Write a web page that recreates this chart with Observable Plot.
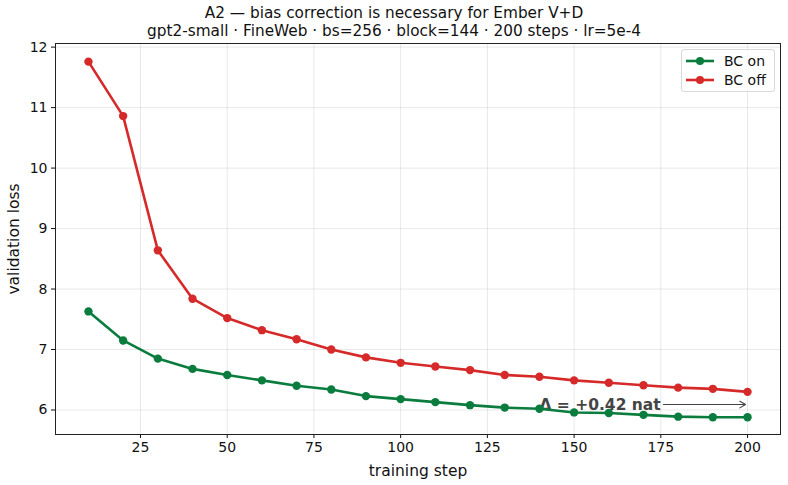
<!DOCTYPE html>
<html>
<head>
<meta charset="utf-8">
<script src="https://cdn.jsdelivr.net/npm/d3@7"></script>
<script src="https://cdn.jsdelivr.net/npm/@observablehq/plot@0.6"></script>
<style>
  body { margin: 0; background: #fff; font-family: "DejaVu Sans", sans-serif; }
  #wrap { position: relative; width: 788px; height: 485px; }
  #title { height: 40px; text-align: center; color: #111; font-size: 15.3px; line-height: 18px; padding-top: 4px; box-sizing: border-box; }
  #legend { position: absolute; left: 681px; top: 49px; width: 94px; height: 43px; border: 1px solid #d8d8d8; border-radius: 3px; background: rgba(255,255,255,0.85); box-sizing: border-box; font-size: 14px; color: #111; }
  .row { position: absolute; left: 3px; display: flex; align-items: center; }
  .row span { margin-left: 9px; }
</style>
</head>
<body>
<div id="wrap">
  <div id="title"></div>
  <div id="chart"></div>
  <div id="legend"></div>
</div>
<script>
// validation loss every 10 steps, bias correction on vs off
const steps = [10, 20, 30, 40, 50, 60, 70, 80, 90, 100, 110, 120, 130, 140, 150, 160, 170, 180, 190, 200];
const bcOn  = [7.63, 7.15, 6.85, 6.68, 6.58, 6.49, 6.40, 6.34, 6.23, 6.18, 6.13, 6.08, 6.04, 6.02, 5.96, 5.95, 5.92, 5.89, 5.88, 5.88];
const bcOff = [11.76, 10.86, 8.64, 7.84, 7.52, 7.32, 7.17, 7.00, 6.87, 6.78, 6.72, 6.66, 6.58, 6.55, 6.49, 6.45, 6.41, 6.37, 6.35, 6.30];
const seriesNames = ["BC on", "BC off"];
const seriesColors = ["#0a7d3e", "#d62a2a"];
const xTicks = [25, 50, 75, 100, 125, 150, 175, 200];
const yTicks = [6, 7, 8, 9, 10, 11, 12];
const titleLines = [
  "A2 — bias correction is necessary for Ember V+D",
  "gpt2-small · FineWeb · bs=256 · block=144 · 200 steps · lr=5e-4"
];

const rows = [];
steps.forEach((s, i) => {
  rows.push({step: s, loss: bcOn[i], run: seriesNames[0]});
  rows.push({step: s, loss: bcOff[i], run: seriesNames[1]});
});

// final-step gap between the two runs
const lastOn = bcOn[bcOn.length - 1];
const lastOff = bcOff[bcOff.length - 1];
const gap = lastOff - lastOn;
const mid = (lastOff + lastOn) / 2;
const lastStep = steps[steps.length - 1];
const note = [{x: 140, y: mid, x2: lastStep, label: `Δ = +${gap.toFixed(2)} nat`}];

document.getElementById("title").innerHTML = titleLines.map(t => `<div>${t}</div>`).join("");

const color = {domain: seriesNames, range: seriesColors};

const chart = Plot.plot({
  width: 788,
  height: 445,
  marginTop: 3,
  marginLeft: 55,
  marginRight: 8,
  marginBottom: 51,
  style: {fontFamily: "DejaVu Sans, sans-serif", fontSize: "13.5px", color: "#111", background: "#fff"},
  x: {domain: [0.5, 209.5]},
  y: {domain: [5.595, 12.06]},
  color,
  marks: [
    Plot.gridX(xTicks, {stroke: "#000", strokeOpacity: 0.09}),
    Plot.gridY(yTicks, {stroke: "#000", strokeOpacity: 0.09}),
    Plot.axisX({ticks: xTicks, tickSize: 4, tickPadding: 4, fontSize: 14,
      label: "training step", labelAnchor: "center", labelArrow: "none", labelOffset: 41}),
    Plot.axisY({ticks: yTicks, tickSize: 4, tickPadding: 4, fontSize: 14, tickFormat: d => String(d),
      label: "validation loss", labelAnchor: "center", labelArrow: "none", labelOffset: 48}),
    Plot.text(note, {x: "x", y: "y", text: "label", textAnchor: "start", fontWeight: "bold", fontSize: 15.5, fill: "#444"}),
    Plot.arrow(note, {x1: "x", y1: "y", x2: "x2", y2: "y", stroke: "#444", strokeWidth: 1.1, headLength: 9, insetStart: 124, insetEnd: 2, bend: 0}),
    Plot.line(rows, {x: "step", y: "loss", stroke: "run", z: "run", strokeWidth: 2.6}),
    Plot.dot(rows, {x: "step", y: "loss", fill: "run", r: 4.2}),
    Plot.frame({stroke: "#222", strokeWidth: 1})
  ]
});
// axis label sizes
chart.querySelectorAll("[aria-label='x-axis label'] text, [aria-label='y-axis label'] text").forEach(t => t.setAttribute("font-size", "15.5"));
document.getElementById("chart").appendChild(chart);

// legend entries: line with a dot, then the run name
const legend = document.getElementById("legend");
seriesNames.forEach((name, i) => {
  const row = document.createElement("div");
  row.className = "row";
  row.style.top = (i === 0 ? 3 : 22) + "px";
  row.innerHTML = `<svg width="30" height="16"><line x1="1" y1="8" x2="29" y2="8" stroke="${seriesColors[i]}" stroke-width="2.6"/><circle cx="15" cy="8" r="4" fill="${seriesColors[i]}"/></svg><span>${name}</span>`;
  legend.appendChild(row);
});
</script>
</body>
</html>
